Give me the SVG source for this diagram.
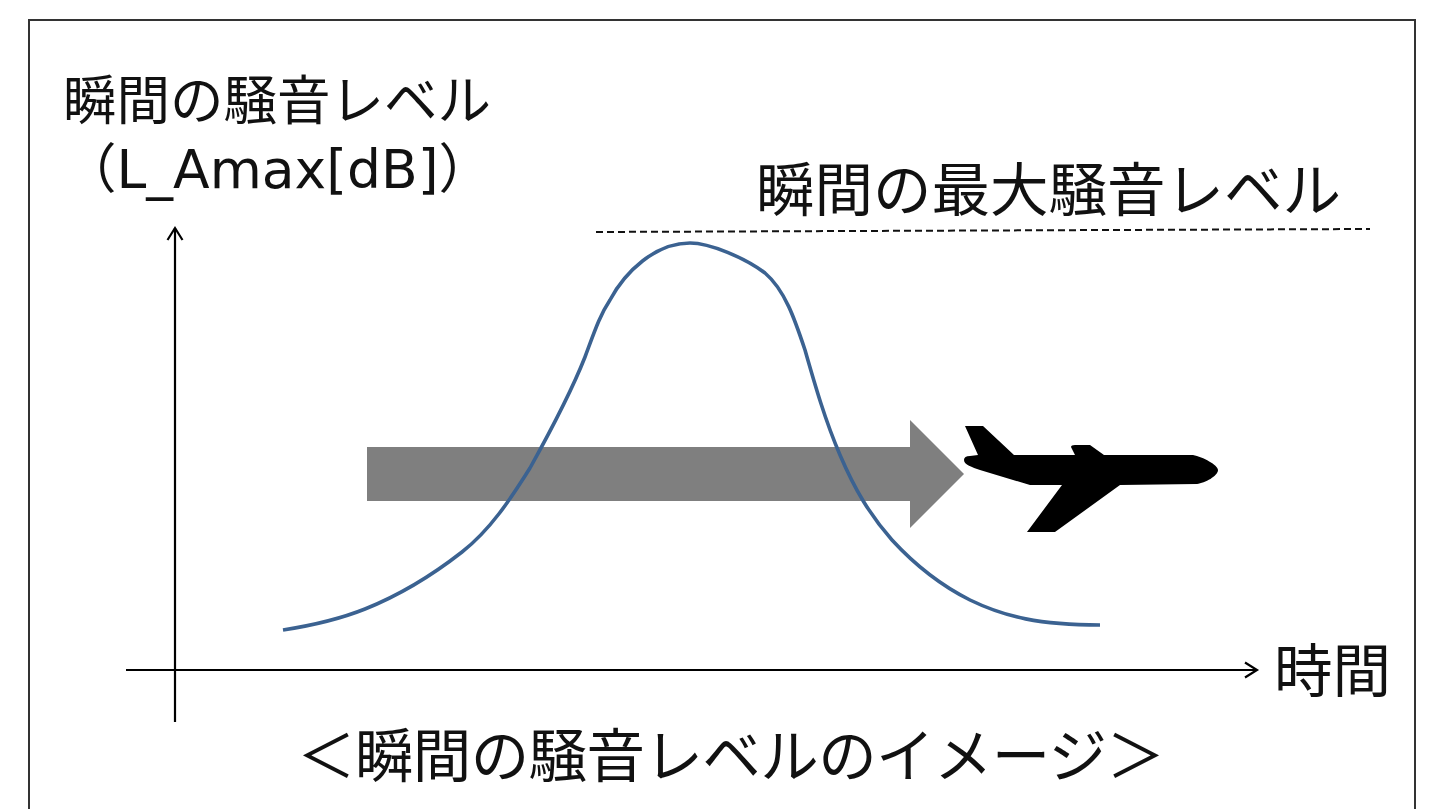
<svg xmlns="http://www.w3.org/2000/svg" width="1430" height="809" viewBox="0 0 1430 809">
<style>
text{font-family:"DejaVu Sans","Noto Sans CJK JP",sans-serif;fill:#111;font-size:53.5px}
.big{font-size:58.5px}
.ax{fill:none;stroke:#000;stroke-width:2.2}
</style>
<defs>
<marker id="ah" markerUnits="userSpaceOnUse" markerWidth="20" markerHeight="20" refX="15" refY="10" orient="auto"><path d="M3 2.5L15 10L3 17.5" fill="none" stroke="#000" stroke-width="2.2"/></marker>
</defs>
<rect width="1430" height="809" fill="#fff"/>
<path d="M29 812V20H1415V812" fill="none" stroke="#333" stroke-width="2"/>
<g id="connectors">
<line class="ax" x1="175" y1="722" x2="175" y2="228" marker-end="url(#ah)"/>
<line class="ax" x1="126" y1="670" x2="1257" y2="670" marker-end="url(#ah)"/>
<line x1="596" y1="232" x2="1370" y2="229" stroke="#111" stroke-width="2" stroke-dasharray="7 4"/>
</g>
<g id="flow-arrow"><path d="M367 447H910V420L964 474L910 528V501H367Z" fill="#7f7f7f"/></g>
<g id="curve"><path d="M283 630C315 625 340 619 365 609C395 597 430 577 462 552C490 530 510 500 530 468C550 432 570 395 585 357C595 330 600 315 610 300C625 272 655 243 690 243C710 243 745 258 765 273C785 290 795 320 805 350C815 385 825 420 840 455C855 490 870 515 892 540C915 565 940 585 970 600C1005 617 1040 625 1100 625" fill="none" stroke="#3b6291" stroke-width="3.6"/></g>
<g id="plane"><path d="M965 426H983L1014 455H1075L1071 447Q1071 445 1075 445H1090L1104 455H1193C1203 457 1218 465 1218 470C1218 476 1205 483 1197 484L1120 485L1055 532H1027L1062 485H1030L980 470C972 467 964 465 964 460Q964 456 970 456L978 455Z" fill="#000"/></g>
<g id="y-label">
<text x="63" y="120">瞬間の騒音レベル</text>
<text x="63" y="188">（L_Amax[dB]）</text>
</g>
<g id="max-label"><text class="big" x="756" y="211">瞬間の最大騒音レベル</text></g>
<g id="x-label"><text class="big" x="1274" y="692">時間</text></g>
<g id="caption"><text class="big" x="297" y="777" textLength="868">＜瞬間の騒音レベルのイメージ＞</text></g>
</svg>
